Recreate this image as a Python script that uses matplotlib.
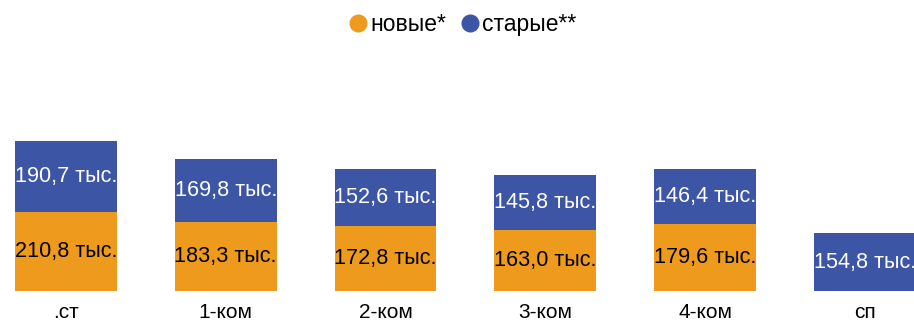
import numpy as np
import matplotlib.pyplot as plt
from matplotlib.lines import Line2D

plt.rcParams['font.family'] = ['Liberation Sans', 'DejaVu Sans']

# Данные
categories = ['.ст', '1-ком', '2-ком', '3-ком', '4-ком', 'сп']
new_vals = [210.8, 183.3, 172.8, 163.0, 179.6, 0.0]
old_vals = [190.7, 169.8, 152.6, 145.8, 146.4, 154.8]

c_new = '#EE9B1D'
c_old = '#3C56A5'

fig = plt.figure(figsize=(9.14, 3.24), dpi=100)
ax = fig.add_axes([0, 33 / 324, 1, 224.6 / 324])

x = np.arange(len(categories))
w = 0.638
ax.bar(x, new_vals, width=w, color=c_new)
ax.bar(x, old_vals, width=w, bottom=new_vals, color=c_old)

def fmt(v):
    return f'{v:.1f}'.replace('.', ',') + ' тыс.'

fs = 15.6
for i in range(len(categories)):
    if new_vals[i] > 0:
        ax.text(x[i], new_vals[i] / 2, fmt(new_vals[i]), ha='center', va='center',
                fontsize=fs, color='black')
    ax.text(x[i], new_vals[i] + old_vals[i] / 2, fmt(old_vals[i]), ha='center', va='center',
            fontsize=fs, color='white')

ax.set_xlim(-0.413, 5.308)
ax.set_ylim(0, 600)
ax.set_xticks(x)
ax.set_xticklabels(categories, fontsize=15)
ax.tick_params(axis='x', length=0, pad=9)
ax.set_yticks([])
for s in ax.spines.values():
    s.set_visible(False)

handles = [Line2D([], [], marker='o', linestyle='none', markersize=12, color=c_new),
           Line2D([], [], marker='o', linestyle='none', markersize=12, color=c_old)]
fig.legend(handles, ['новые*', 'старые**'], loc='upper center', bbox_to_anchor=(0.505, 1.025),
           ncol=2, frameon=False, fontsize=16.5, handletextpad=0.05, columnspacing=0.5,
           handlelength=1.0)

fig.savefig('out.png', dpi=100)
